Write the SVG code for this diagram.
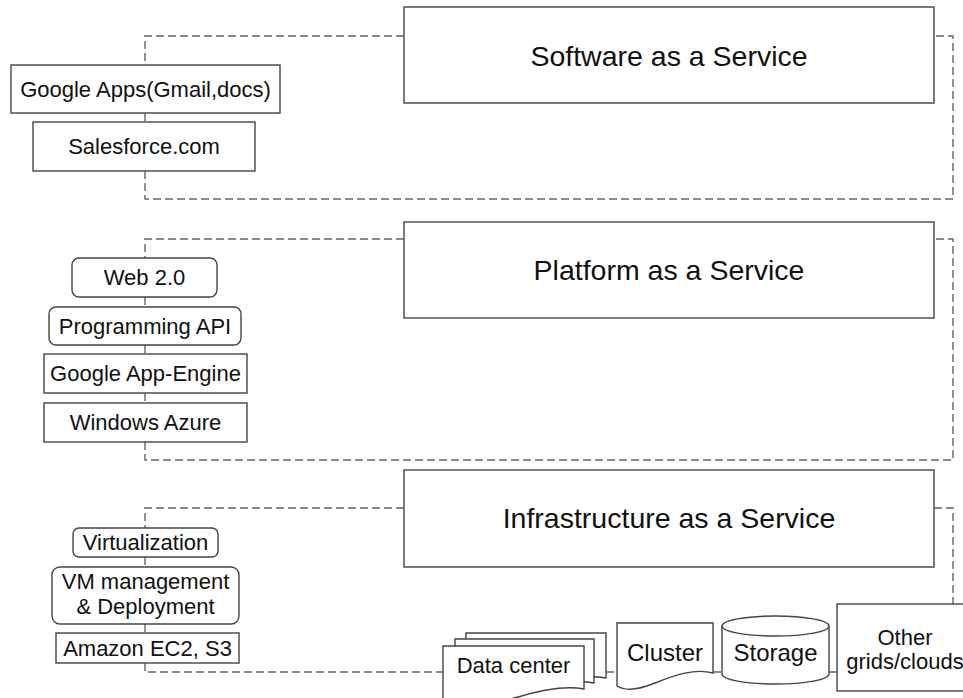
<svg xmlns="http://www.w3.org/2000/svg" width="963" height="698" viewBox="0 0 963 698">
<style>
.box{fill:#fff;stroke:#444;stroke-width:1.4}
.dash{fill:none;stroke:#666;stroke-width:1.4;stroke-dasharray:8 4}
.t{font-family:"Liberation Sans",Arial,sans-serif;fill:#111;text-anchor:middle}
.s22{font-size:22px}
.s24{font-size:24px}
.s28{font-size:28.5px}
</style>
<rect width="963" height="698" fill="#fff"/>
<g id="connectors">
<path class="dash" d="M404,36 H145 V65 M145,113 V122 M145,171 V199 H953 V36 H934"/>
<path class="dash" d="M404,239 H145 V258 M145,297 V307 M145,345 V354 M145,393 V403 M145,442 V460 H953 V239 H934"/>
<path class="dash" d="M404,508 H145 V528 M145,557 V567 M145,624 V633 M145,663 V672 H443 M606,672 H617 M713,672 H722 M829,672 H837 M934,508 H953 V604"/>
</g>
<g id="saas">
<rect class="box" x="404" y="7" width="530" height="96"/>
<text class="t s28" x="669" y="66">Software as a Service</text>
</g>
<g id="google-apps">
<rect class="box" x="11" y="65" width="269" height="48"/>
<text class="t s22" x="145.5" y="97">Google Apps(Gmail,docs)</text>
</g>
<g id="salesforce">
<rect class="box" x="33" y="122" width="222" height="49"/>
<text class="t s22" x="144" y="154">Salesforce.com</text>
</g>
<g id="paas">
<rect class="box" x="404" y="222" width="530" height="96"/>
<text class="t s28" x="669" y="280">Platform as a Service</text>
</g>
<g id="web20">
<rect class="box" x="72" y="258" width="145" height="39" rx="7"/>
<text class="t s22" x="144.5" y="285">Web 2.0</text>
</g>
<g id="programming-api">
<rect class="box" x="49" y="307" width="192" height="38" rx="7"/>
<text class="t s22" x="145" y="334">Programming API</text>
</g>
<g id="google-app-engine">
<rect class="box" x="44" y="354" width="203" height="39"/>
<text class="t s22" x="145.5" y="381">Google App-Engine</text>
</g>
<g id="windows-azure">
<rect class="box" x="44" y="403" width="203" height="39"/>
<text class="t s22" x="145.5" y="430">Windows Azure</text>
</g>
<g id="iaas">
<rect class="box" x="404" y="470" width="530" height="97"/>
<text class="t s28" x="669" y="528">Infrastructure as a Service</text>
</g>
<g id="virtualization">
<rect class="box" x="73" y="528" width="145" height="29" rx="6"/>
<text class="t s22" x="145.5" y="550">Virtualization</text>
</g>
<g id="vm-management">
<rect class="box" x="52" y="567" width="187" height="57" rx="8"/>
<text class="t s22" x="145.5" y="589">VM management</text>
<text class="t s22" x="145.5" y="614">&amp; Deployment</text>
</g>
<g id="amazon">
<rect class="box" x="56" y="633" width="183" height="30"/>
<text class="t s22" x="147.5" y="656">Amazon EC2, S3</text>
</g>
<g id="data-center">
<path class="box" d="M466,633 H606 V678 C585,674 560,680 540,686 C520,692 490,694 466,690 Z"/>
<path class="box" d="M455,639 H594 V683 C573,679 548,685 528,691 C508,697 478,699 455,695 Z"/>
<path class="box" d="M443,646 H584 V689 C563,685 538,691 518,697 C498,703 468,705 443,701 Z"/>
<text class="t s22" x="513.5" y="673">Data center</text>
</g>
<g id="cluster">
<path class="box" d="M617,623 H713 V673 C695,668 675,675 655,683 C638,690 625,691 617,686 Z"/>
<text class="t s24" x="665" y="661">Cluster</text>
</g>
<g id="storage">
<path class="box" d="M722,626 V674 A53.5,10 0 0 0 829,674 V626 A53.5,10 0 0 0 722,626 Z"/>
<path class="box" d="M722,626 A53.5,10 0 0 0 829,626" fill="none"/>
<text class="t s24" x="775.5" y="661">Storage</text>
</g>
<g id="other">
<rect class="box" x="837" y="604" width="140" height="87"/>
<text class="t s22" x="905" y="645">Other</text>
<text class="t s22" x="905" y="669">grids/clouds</text>
</g>
</svg>
